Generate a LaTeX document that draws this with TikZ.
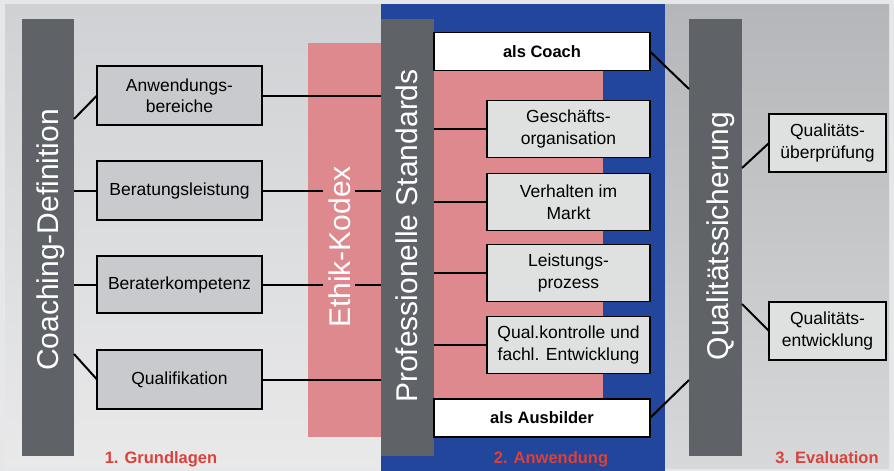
\documentclass[tikz,border=0pt]{standalone}
\usepackage{fontspec}
\setmainfont{Liberation Sans}
\definecolor{framec}{HTML}{E6E7E8}
\definecolor{lefttop}{HTML}{CFD1D4}
\definecolor{leftbot}{HTML}{E9E9EA}
\definecolor{righttop}{HTML}{B5B6B9}
\definecolor{rightbot}{HTML}{D7D8D9}
\definecolor{bluec}{HTML}{22469B}
\definecolor{pinkc}{HTML}{DD898D}
\definecolor{barc}{HTML}{5F6266}
\definecolor{lgray}{HTML}{C9CACD}
\definecolor{pgray}{HTML}{DFE0E0}
\definecolor{redc}{HTML}{D9413B}
\begin{document}
\begin{tikzpicture}[x=1pt,y=-1pt,
  bar/.style={fill=barc, draw=none, inner sep=0pt, outer sep=0pt, minimum height=437},
  bartext/.style={rotate=90, text=white, anchor=base, inner sep=0pt, font=\fontsize{30}{36}\selectfont},
  boxbase/.style={draw=black, line width=1.7pt, align=center, inner sep=2pt, outer sep=0pt,
    font=\fontsize{17.5}{21.5}\selectfont},
  lbox/.style={boxbase, fill=lgray, minimum width=165, minimum height=59},
  sbox/.style={boxbase, fill=pgray, minimum width=163, minimum height=57},
  wbox/.style={boxbase, fill=white, minimum width=216, minimum height=38, font=\fontsize{16.5}{20}\selectfont\bfseries},
  qbox/.style={boxbase, fill=pgray, minimum width=117, minimum height=58},
  link/.style={draw=black, line width=2pt},
  phase/.style={text=redc, anchor=base, font=\fontsize{16.5}{20}\selectfont\bfseries}]
\useasboundingbox (0,0) rectangle (894,471);

% panels
\fill[framec] (0,0) rectangle (894,471);
\shade[top color=lefttop, bottom color=leftbot] (5,4) rectangle (381,468);
\fill[bluec] (381,4) rectangle (665,471);
\shade[top color=righttop, bottom color=rightbot] (665,4) rectangle (889,468);
\fill[pinkc] (308,43) rectangle (603,437);

% vertical bars
\node[bar, minimum width=52] (cd) at (48,237.5) {};
\node[bar, minimum width=53] (ps) at (407.5,237.5) {};
\node[bar, minimum width=53] (qs) at (715.5,237.5) {};

% boxes of the first column
\node[lbox] (anw) at (179.5,95.5) {Anwendungs-\\bereiche};
\node[lbox] (bl) at (179.5,190.5) {Beratungsleistung};
\node[lbox, minimum height=57] (bk) at (179.5,284.5) {Beraterkompetenz};
\node[lbox] (qu) at (179.5,379.5) {Qualifikation};

% boxes of the second column
\node[wbox] (ac) at (542,51.5) {als Coach};
\node[sbox] (ges) at (568.5,129) {Geschäfts-\\organisation};
\node[sbox] (vm) at (568.5,202) {Verhalten im\\Markt};
\node[sbox] (lp) at (568.5,273) {Leistungs-\\prozess};
\node[sbox] (qk) at (568.5,345) {Qual.kontrolle und\\fachl. Entwicklung};
\node[wbox] (aa) at (542,418) {als Ausbilder};

% boxes of the third column
\node[qbox] (qpr) at (827.5,143) {Qualitäts-\\überprüfung};
\node[qbox] (qe) at (827.5,331) {Qualitäts-\\entwicklung};

% free ends on the bars
\coordinate (c1) at (74,119);
\coordinate (c2) at (74,354);
\coordinate (c3) at (689,89);
\coordinate (c4) at (689,380);
\coordinate (c5) at (742,168);
\coordinate (c6) at (742,304);

% connectors
\draw[link] (c1) -- (anw.west);
\draw[link] (bl.west -| cd.east) -- (bl.west);
\draw[link] (bk.west -| cd.east) -- (bk.west);
\draw[link] (c2) -- (qu.west);
\draw[link] (anw.east) -- (anw.east -| ps.west);
\draw[link] (bl.east) -- (bl.east -| ps.west);
\draw[link] (bk.east) -- (bk.east -| ps.west);
\draw[link] (qu.east) -- (qu.east -| ps.west);
\draw[link] (ges.west -| ps.east) -- (ges.west);
\draw[link] (vm.west -| ps.east) -- (vm.west);
\draw[link] (lp.west -| ps.east) -- (lp.west);
\draw[link] (qk.west -| ps.east) -- (qk.west);
\draw[link] (ac.east) -- (c3);
\draw[link] (aa.east) -- (c4);
\draw[link] (c5) -- (qpr.west);
\draw[link] (c6) -- (qe.west);

% rotated titles
\node[bartext, fill=pinkc, inner sep=5pt] (ek) at (350,247) {Ethik-Kodex};
\node[bartext] (cdt) at (58,240) {Coaching-Definition};
\node[bartext] (pst) at (417,236) {Professionelle Standards};
\node[bartext] (qst) at (728,236) {Qualitätssicherung};

% phase labels
\node[phase] (p1) at (161,463) {1. Grundlagen};
\node[phase] (p2) at (551,463) {2. Anwendung};
\node[phase] (p3) at (827,463) {3. Evaluation};
\end{tikzpicture}
\end{document}
